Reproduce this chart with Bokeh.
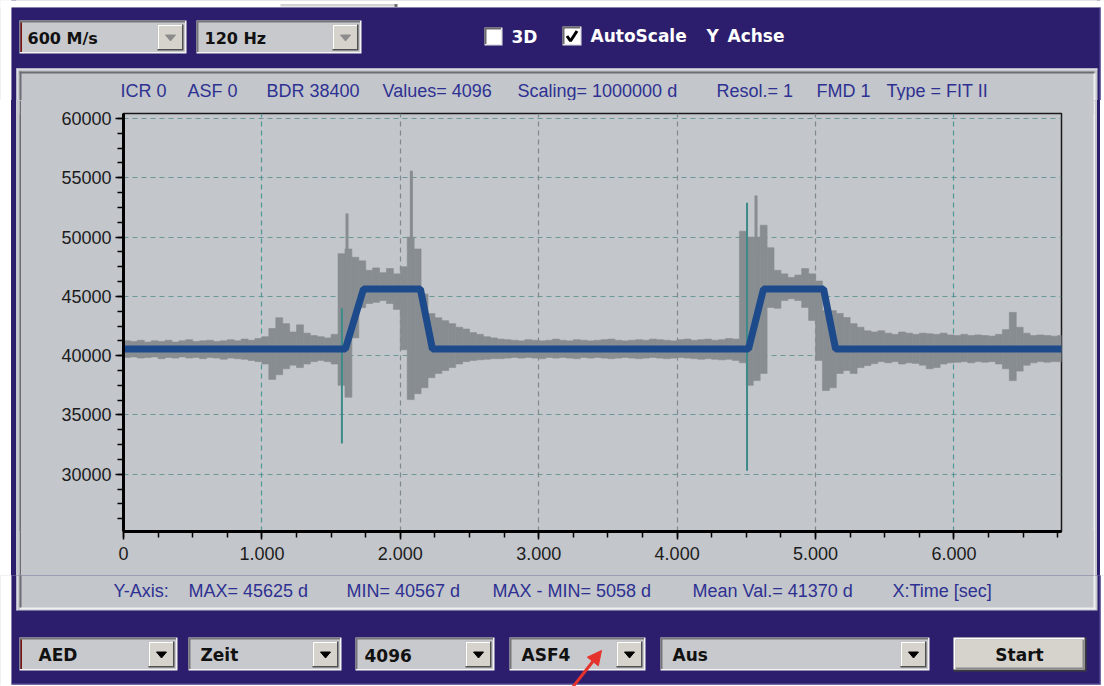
from bokeh.plotting import figure
from bokeh.models import Range1d, FixedTicker, Grid, Arrow, NormalHead, Spacer
from bokeh.layouts import column, row
from bokeh.embed import file_html
from bokeh.resources import INLINE
from bokeh.core.properties import value

# ---------------- data ----------------
x_ticks = [0, 1, 2, 3, 4, 5, 6]
x_tick_labels = ["0", "1.000", "2.000", "3.000", "4.000", "5.000", "6.000"]
y_ticks = [30000, 35000, 40000, 45000, 50000, 55000, 60000]
y_tick_labels = ["30000", "35000", "40000", "45000", "50000", "55000", "60000"]

# raw signal drawn as a min/max envelope per 0.05 s bin
bin_width = 0.05
sig_hi = [
    41250, 41200, 41300, 41150, 41250, 41200, 41300, 41150, 41250, 41350,
    41200, 41250, 41300, 41200, 41250, 41350, 41250, 41400, 41300, 41450,
    41600, 42300, 43200, 42700, 42000, 42600, 41900, 41700, 41600, 41500, 41800, 48600,
    49000, 48300, 48000, 47200, 47400, 47000, 47350, 46900, 47500, 50000, 49000,
    45200, 43550, 43200, 42950, 42700, 42400, 42250, 41950, 41800, 41600, 41500,
    41400, 41350, 41300, 41250, 41350, 41300, 41250, 41300, 41400, 41300,
    41250, 41350, 41300, 41250, 41300, 41350, 41400, 41300, 41250, 41300,
    41350, 41300, 41400, 41350, 41300, 41250, 41350, 41400, 41300, 41350,
    41400, 41300, 41350, 41450, 41400,
    50500, 50000, 50000, 51000, 49100, 47200, 46900, 46600, 46800, 47350,
    46900, 46300, 43800, 43800, 43560, 43220, 42700, 42400, 42100, 42000,
    42100, 41900, 41800,
    42000, 41900, 41800, 41900, 41850, 41800, 41900, 41750, 41700, 41800,
    41700, 41750, 41700, 41650, 41800, 42200, 43650, 42400, 41900, 41700,
    41750, 41700, 41650, 41700,
]
sig_lo = [
    39850, 39900, 39800, 39850, 39900, 39750, 39850, 39800, 39900, 39800,
    39850, 39750, 39850, 39800, 39700, 39800, 39750, 39700, 39600, 39500,
    39300, 38000, 38400, 38900, 39200, 39000, 39300, 39500, 39600, 39500, 39300, 37500,
    36500, 41500, 44050, 44400, 44500, 44650, 44400, 43900, 40500, 36300, 36800,
    37300, 38150, 38500, 38750, 39000, 39300, 39500, 39600, 39650, 39700, 39750,
    39750, 39800, 39850, 39800, 39850, 39800, 39750, 39850, 39800, 39850,
    39800, 39750, 39850, 39800, 39850, 39800, 39750, 39800, 39850, 39800,
    39750, 39800, 39850, 39800, 39750, 39800, 39850, 39800, 39750, 39700,
    39750, 39700, 39650, 39700, 39600,
    39400, 37500, 37900, 38500, 44070, 44000, 44650, 44800, 44650, 44070,
    42970, 39600, 37060, 37300, 38500, 38750, 38500, 39000, 39170, 39330,
    39500, 39400, 39500,
    39300, 39400, 39350, 39200, 38900, 39000, 39300, 39400, 39450, 39500,
    39400, 39500, 39450, 39500, 39300, 38900, 37900, 38700, 39200, 39400,
    39500, 39450, 39500, 39500,
]
# narrow gray peaks and the two teal edge spikes
spike_t = [1.615, 2.08, 4.57]
spike_lo = [40000, 40000, 40000]
spike_hi = [52000, 55600, 53500]
edge_t = [1.578, 4.505]
edge_lo = [32600, 30300]
edge_hi = [44000, 52900]
# blue fit curve
fit_t = [0.0, 1.603, 1.734, 2.145, 2.232, 4.516, 4.624, 5.058, 5.145, 6.78]
fit_v = [40567, 40567, 45625, 45625, 40567, 40567, 45625, 45625, 40567, 40567]

header_texts = ["ICR 0", "ASF  0", "BDR 38400", "Values= 4096", "Scaling= 1000000 d",
                "Resol.=  1", "FMD 1", "Type = FIT II"]
header_x = [120, 187, 266, 382, 517, 716, 816, 886]
footer_texts = ["Y-Axis:", "MAX=  45625 d", "MIN=  40567 d", "MAX - MIN=   5058 d",
                "Mean Val.=  41370 d", "X:Time [sec]"]
footer_x = [113, 188, 346, 492, 692, 892]
top_combo_labels = ["600 M/s", "120 Hz"]
bottom_combo_labels = ["AED", "Zeit", "4096", "ASF4", "Aus"]
autoscale_words = ["AutoScale", "Y", "Achse"]
autoscale_x = [590, 706, 727]

# ---------------- styles ----------------
PURPLE = "#2c1e6d"
VIOLET = "#5d55a0"
PANEL = "#c3c6cb"
LIGHT = "#eef0f2"
DARK = "#6c6d72"
NAVY = "#2e3192"
SIG = "#888d91"
BLUE = "#1c4a8b"
TEAL = "#4f9898"
FONT = value("Liberation Sans")
UIFONT = value("DejaVu Sans")

STRIPES_CSS = (":host { background-color: #c3c6cb; background-image: linear-gradient(to right, "
               "#ffffff 0px, #ffffff 11px, #2c1e6d 11px, #2c1e6d 16px, #c3c6cb 16px, "
               "#c3c6cb 1097px, #2c1e6d 1097px, #2c1e6d 1100px, #ffffff 1100px, #ffffff 1104px); }")
WHITE_CSS = ":host { background-color: #ffffff; }"


def ui_fig(x0, y0, w, h):
    p = figure(width=w, height=h, x_range=Range1d(x0, x0 + w), y_range=Range1d(y0 + h, y0),
               toolbar_location=None, output_backend="svg", min_border=0,
               x_axis_type=None, y_axis_type=None, outline_line_color=None,
               background_fill_color=PANEL, border_fill_color=PANEL)
    return p


def solid(w, h, color):
    p = figure(width=w, height=h, x_range=Range1d(0, 1), y_range=Range1d(0, 1),
               toolbar_location=None, output_backend="svg", min_border=0,
               x_axis_type=None, y_axis_type=None, outline_line_color=None,
               background_fill_color=color, border_fill_color=color)
    return p


def box(p, l, r, t, b, color):
    p.quad(left=[l], right=[r], top=[t], bottom=[b], fill_color=color, line_color=None)


def txt(p, xs, ys, texts, color, size, bold=False, align="left", font=FONT):
    p.text(x=xs, y=ys, text=texts, text_color=color, text_font=font,
           text_font_size=value(size), text_font_style="bold" if bold else "normal",
           text_baseline="middle", text_align=align)


def combo(p, l, r, t, b, label, tx, tri, size, red=False):
    box(p, l, r, t, b, "#f4f4f4")
    box(p, l, r - 1.5, t, b - 1.5, "#76767a")
    box(p, l + 2, r - 1.5, t + 2, b - 1.5, "#c8c9cc")
    bl, br, bt, bb = r - 29, r - 3, t + 4, b - 3
    box(p, bl, br, bt, bb, "#505050")
    box(p, bl, br - 1.5, bt, bb - 1.5, "#ffffff")
    box(p, bl + 1.5, br - 1.5, bt + 1.5, bb - 1.5, "#d6d3cd")
    cx, cy = (bl + br) / 2, (bt + bb) / 2
    p.patch([cx - 5, cx + 5, cx], [cy - 2.5, cy - 2.5, cy + 3.5], color=tri)
    if red:
        box(p, l + 1, l + 2.5, t + 2, b - 1.5, "#7a1414")
    txt(p, [tx], [(t + b) / 2 + 1], [label], "#111111", size, bold=True, font=UIFONT)


def checkbox(p, l, t, s, checked):
    box(p, l, l + s, t, t + s, "#e6e6e6")
    box(p, l, l + s - 1.5, t, t + s - 1.5, "#6a6a6a")
    box(p, l + 2, l + s - 1.5, t + 2, t + s - 1.5, "#ffffff")
    if checked:
        p.line([l + 4.5, l + 8, l + s - 4.5], [t + s / 2, t + s - 4.5, t + 4.5],
               line_width=3, line_color="black")


# ---------------- top strip (y 0..100); boxes overshoot the canvas edges ----------------
top = ui_fig(0, 0, 1104, 100)
box(top, -10, 1114, -10, 7, "#ffffff")
box(top, -10, 11, -10, 110, "#ffffff")
box(top, 1100, 1114, -10, 110, "#ffffff")
box(top, 280, 396, 3.5, 6, "#d2d2d2")
box(top, 394, 397, 3.5, 6.5, "#707070")
box(top, 11, 1100, 7, 110, PURPLE)
box(top, 1099, 1100, 7, 110, VIOLET)
box(top, 16, 1097, 68, 110, PANEL)
box(top, 16, 1097, 68, 69, LIGHT)
box(top, 16, 17, 68, 110, LIGHT)
box(top, 19, 1094, 71, 73, DARK)
box(top, 19, 21, 71, 110, DARK)
box(top, 1093, 1095, 73, 110, LIGHT)
combo(top, 19, 186, 20, 53, top_combo_labels[0], 27, "#8c8c8c", "16px", red=True)
combo(top, 196, 361, 20, 53, top_combo_labels[1], 204, "#8c8c8c", "16px")
checkbox(top, 484, 27, 18, False)
txt(top, [511], [36], ["3D"], "white", "17px", bold=True, font=UIFONT)
checkbox(top, 562, 26, 19, True)
txt(top, autoscale_x, [35] * 3, autoscale_words, "white", "17px", bold=True, font=UIFONT)
txt(top, header_x, [90] * len(header_x), header_texts, NAVY, "18px")

# ---------------- chart (x 21..1093, y 100..575) ----------------
chart = figure(width=1072, height=475, x_range=Range1d(0, 6.777), y_range=Range1d(25176, 60422),
               toolbar_location=None, output_backend="svg",
               min_border_left=102, min_border_right=32, min_border_top=13, min_border_bottom=44,
               background_fill_color=PANEL, border_fill_color=PANEL,
               outline_line_color="#1a1a1a", outline_line_width=1.5)
chart.xaxis.ticker = FixedTicker(ticks=x_ticks, minor_ticks=[i * 0.25 for i in range(28)])
chart.xaxis.major_label_overrides = dict(zip(x_ticks, x_tick_labels))
chart.yaxis.ticker = FixedTicker(ticks=y_ticks, minor_ticks=[25000 + 1250 * i for i in range(29)])
chart.yaxis.major_label_overrides = dict(zip(y_ticks, y_tick_labels))
for ax in chart.axis:
    ax.axis_line_width = 3
    ax.axis_line_color = "black"
    ax.major_tick_line_color = "black"
    ax.major_tick_line_width = 1.5
    ax.major_tick_out = 8
    ax.major_tick_in = 0
    ax.minor_tick_line_color = "black"
    ax.minor_tick_line_width = 1.5
    ax.minor_tick_out = 6
    ax.minor_tick_in = 0
    ax.major_label_text_font = "Liberation Sans"
    ax.major_label_text_font_size = "18px"
    ax.major_label_text_color = "#1c1c1c"
chart.yaxis.major_label_standoff = 4
chart.xaxis.major_label_standoff = 7

chart.xgrid.visible = False
chart.ygrid.ticker = FixedTicker(ticks=y_ticks)
chart.ygrid.grid_line_color = "#6a9898"
chart.ygrid.grid_line_dash = "5 4"
chart.ygrid.grid_line_width = 1.2
chart.add_layout(Grid(dimension=0, ticker=FixedTicker(ticks=[1, 6]), grid_line_color=TEAL,
                      grid_line_dash="5 4", grid_line_width=1.2))
chart.add_layout(Grid(dimension=0, ticker=FixedTicker(ticks=[2, 3, 4, 5]), grid_line_color="#7f8a8d",
                      grid_line_dash="5 4", grid_line_width=1.2))

bin_x = [bin_width * (i + 0.5) for i in range(len(sig_hi))]
chart.vbar(x=bin_x, width=bin_width, top=sig_hi, bottom=sig_lo,
           fill_color=SIG, line_color=SIG, line_width=0.6)
chart.segment(x0=spike_t, x1=spike_t, y0=spike_lo, y1=spike_hi, line_color=SIG, line_width=3)
chart.segment(x0=edge_t, x1=edge_t, y0=edge_lo, y1=edge_hi, line_color="#3d8a8a", line_width=2)
chart.line(fit_t, fit_v, line_width=7, line_color=BLUE)

left_side = [Spacer(width=11, height=475, stylesheets=[WHITE_CSS]), solid(5, 475, PURPLE),
             solid(3, 475, PANEL), solid(2, 475, DARK)]
right_side = [solid(2, 475, LIGHT), solid(2, 475, PANEL), solid(3, 475, PURPLE),
              Spacer(width=4, height=475, stylesheets=[WHITE_CSS])]

# ---------------- bottom strip (y 575..686); boxes overshoot the canvas edges ----------------
bottom = ui_fig(0, 575, 1104, 111)
box(bottom, -10, 11, 565, 700, "#ffffff")
box(bottom, 1100, 1114, 565, 700, "#ffffff")
box(bottom, -10, 1114, 684, 700, "#ffffff")
box(bottom, 11, 1100, 565, 684, PURPLE)
box(bottom, 1099, 1100, 565, 684, VIOLET)
box(bottom, 11, 1100, 683, 684, VIOLET)
box(bottom, 16, 1097, 565, 610, PANEL)
box(bottom, 16, 17, 565, 610, LIGHT)
box(bottom, 19, 21, 565, 608, DARK)
box(bottom, 19, 1095, 607, 609, LIGHT)
box(bottom, 1093, 1095, 565, 609, LIGHT)
txt(bottom, footer_x, [590] * len(footer_x), footer_texts, NAVY, "18px")

combo(bottom, 19, 177, 637, 670, bottom_combo_labels[0], 38, "black", "17px", red=True)
combo(bottom, 188, 341, 637, 670, bottom_combo_labels[1], 200, "black", "17px")
combo(bottom, 355, 494, 637, 670, bottom_combo_labels[2], 364, "black", "17px")
combo(bottom, 509, 645, 637, 670, bottom_combo_labels[3], 521, "black", "17px")
combo(bottom, 660, 929, 637, 670, bottom_combo_labels[4], 672, "black", "17px")
# Start button
box(bottom, 953, 1086, 637, 671, "#3c3c3c")
box(bottom, 953, 1084, 637, 669, "#ffffff")
box(bottom, 955, 1084, 639, 669, "#8a8a8a")
box(bottom, 955, 1082, 639, 667, "#d6d3cd")
txt(bottom, [1019], [654], ["Start"], "#111111", "17px", bold=True, align="center", font=UIFONT)
# red annotation arrow
bottom.add_layout(Arrow(x_start=568, y_start=692, x_end=601, y_end=650,
                        line_color="#e5322d", line_width=3,
                        end=NormalHead(size=14, fill_color="#e5322d", line_color="#e5322d")))

middle = row(*left_side, chart, *right_side, stylesheets=[STRIPES_CSS])
layout = column(top, middle, bottom, stylesheets=[STRIPES_CSS])
open("out.html", "w").write(file_html(layout, INLINE))
